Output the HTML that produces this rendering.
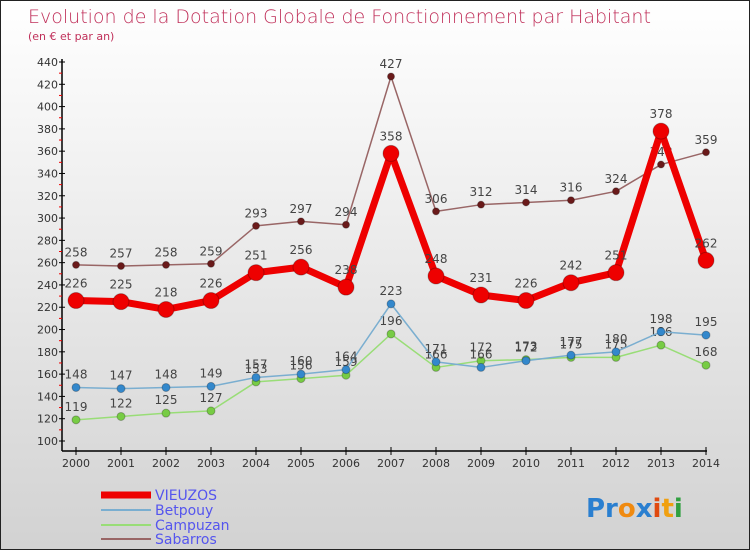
<!DOCTYPE html>
<html><head><meta charset="utf-8"><style>
body{margin:0}
#c{width:750px;height:550px;position:relative;background:linear-gradient(#ffffff,#d2d2d2);box-sizing:border-box;border:1px solid #222;font-family:"DejaVu Sans","Liberation Sans",sans-serif}
</style></head><body>
<div id="c">
<svg id="s" width="750" height="550" style="position:absolute;left:0;top:0">
<text x="27" y="22" font-size="19" fill="#c0305a" font-family="DejaVu Sans, sans-serif" font-weight="200">Evolution de la Dotation Globale de Fonctionnement par Habitant</text>
<text x="27" y="39" font-size="11" fill="#c0305a">(en € et par an)</text>
<g id="axes"></g><g id="series"></g>
<g>
<line x1="100" y1="494" x2="150" y2="494" stroke="#e00" stroke-width="7"/>
<text x="154" y="499" font-size="14" fill="#5555ee">VIEUZOS</text>
<line x1="100" y1="509" x2="150" y2="509" stroke="#7aaed0" stroke-width="2"/>
<text x="154" y="514" font-size="14" fill="#5555ee">Betpouy</text>
<line x1="100" y1="524" x2="150" y2="524" stroke="#99dd77" stroke-width="2"/>
<text x="154" y="529" font-size="14" fill="#5555ee">Campuzan</text>
<line x1="100" y1="538" x2="150" y2="538" stroke="#996666" stroke-width="2"/>
<text x="154" y="543" font-size="14" fill="#5555ee">Sabarros</text>
</g>
<text x="585" y="516" font-size="26" font-weight="bold"><tspan fill="#2a7fd0">Pr</tspan><tspan fill="#f08a10">o</tspan><tspan fill="#2a7fd0">x</tspan><tspan fill="#e04a10">i</tspan><tspan fill="#f0a010">t</tspan><tspan fill="#30a040">i</tspan></text>
</svg>
</div>
<script>
const years=[2000,2001,2002,2003,2004,2005,2006,2007,2008,2009,2010,2011,2012,2013,2014];
const yTicks=[100,120,140,160,180,200,220,240,260,280,300,320,340,360,380,400,420,440];
const vieuzos=[226,225,218,226,251,256,238,358,248,231,226,242,251,378,262];
const betpouy=[148,147,148,149,157,160,164,223,171,166,172,177,180,198,195];
const campuzan=[119,122,125,127,153,156,159,196,166,172,173,175,175,186,168];
const sabarros=[258,257,258,259,293,297,294,427,306,312,314,316,324,348,359];
const NS="http://www.w3.org/2000/svg";
const X=i=>75+i*(705-75)/14;
const Y=v=>440-(v-100)*(440-61)/340;
function mk(t,a,p){const e=document.createElementNS(NS,t);for(const k in a)e.setAttribute(k,a[k]);p.appendChild(e);return e;}
const ax=document.getElementById('axes');
let e=mk('line',{x1:61,y1:58,x2:61,y2:450,stroke:'#000','stroke-width':1.5},ax);


e=mk('line',{x1:61,y1:450,x2:706,y2:450,stroke:'#000','stroke-width':1.5},ax);


yTicks.forEach((t,i)=>{
 mk('line',{x1:58,y1:Y(t),x2:64,y2:Y(t),stroke:'#000'},ax);
 if(i<yTicks.length-1)mk('line',{x1:58,y1:Y(t+10),x2:61,y2:Y(t+10),stroke:'#e00'},ax);
 const l=mk('text',{x:57,y:Y(t)+4,'font-size':11,fill:'#333','text-anchor':'end'},ax);
 l.textContent=t;
 
 
});
years.forEach((y,i)=>{
 mk('line',{x1:X(i),y1:446,x2:X(i),y2:454,stroke:'#000'},ax);
 const l=mk('text',{x:X(i),y:466,'font-size':11,fill:'#333','text-anchor':'middle'},ax);
 l.textContent=y;
 
 
});
const sg=document.getElementById('series');
function series(name,vals,color,w,r,dot){
 const g=mk('g',{},sg);
 
 
 mk('polyline',{points:vals.map((v,i)=>X(i)+','+Y(v)).join(' '),fill:'none',stroke:color,'stroke-width':w,'stroke-linejoin':'round'},g);
 vals.forEach((v,i)=>{
  const c=mk('circle',{cx:X(i),cy:Y(v),r:r,fill:dot,stroke:'rgba(0,0,0,0.25)'},g);
  
  
  const t=mk('text',{x:X(i),y:Y(v)-r-5,'font-size':12,fill:'#444','text-anchor':'middle'},g);
  t.textContent=v;
  
  
 });
}
series('sabarros',sabarros,'#996666',1.5,3.5,'#6a1a1a');
series('campuzan',campuzan,'#99dd77',1.5,4,'#77cc44');
series('betpouy',betpouy,'#7aaed0',1.5,4,'#3388cc');
series('vieuzos',vieuzos,'#ee0000',7,8,'#ee0000');
</script>
</body></html>
